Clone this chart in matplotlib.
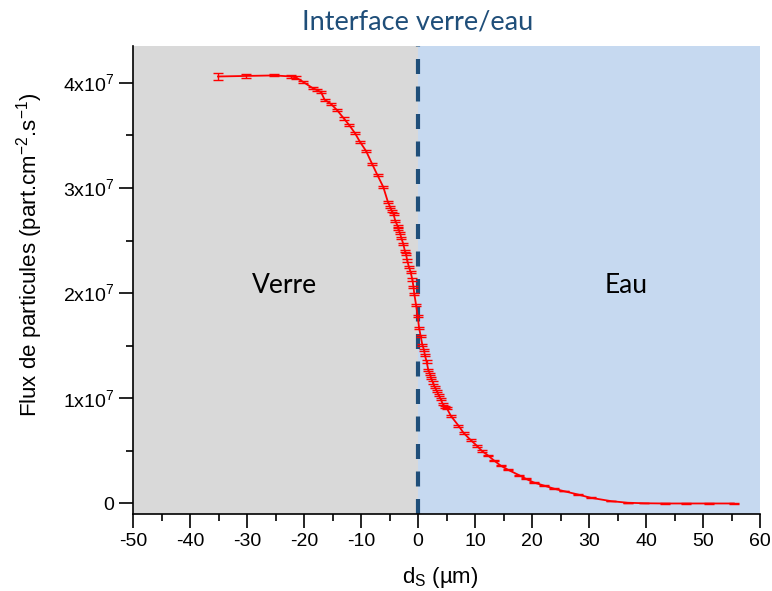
import numpy as np
import matplotlib.pyplot as plt
import matplotlib.transforms as mtransforms

# data (x in µm, flux in 1e7 part.cm-2.s-1)
ds = [-35.1, -30.2, -25.3, -22.2, -21.4, -20.2, -18.5, -17.7, -17.0, -16.4,
      -15.3, -14.2, -13.0, -12.1, -11.05, -10.2, -9.1, -8.07, -7.1, -6.1,
      -5.3, -4.9, -4.6, -4.3, -4.0, -3.6, -3.45, -3.16, -2.9, -2.6,
      -2.3, -2.1, -1.9, -1.6, -1.3, -1.0, -0.8, -0.65, -0.35, -0.05,
      0.18, 0.47, 0.75, 1.05, 1.2, 1.5, 1.8, 2.1, 2.3, 2.6,
      2.9, 3.3, 3.6, 4.0, 4.3, 4.7, 5.0, 5.8, 7.1, 8.0,
      9.3, 10.3, 11.2, 12.2, 13.3, 14.5, 15.8, 17.7, 18.9, 20.3,
      22.1, 23.9, 25.6, 28.0, 30.3, 33.9, 36.8, 39.7, 43.3, 47.0,
      51.0, 55.4]
flux = [4.06, 4.065, 4.07, 4.06, 4.05, 4.01, 3.95, 3.93, 3.91, 3.84,
        3.80, 3.74, 3.66, 3.60, 3.52, 3.44, 3.35, 3.23, 3.12, 3.01,
        2.87, 2.82, 2.78, 2.75, 2.69, 2.64, 2.61, 2.57, 2.52, 2.47,
        2.40, 2.37, 2.31, 2.25, 2.20, 2.13, 2.06, 1.99, 1.89, 1.78,
        1.67, 1.59, 1.51, 1.46, 1.41, 1.35, 1.27, 1.23, 1.19, 1.15,
        1.11, 1.07, 1.03, 0.99, 0.95, 0.92, 0.91, 0.83, 0.74, 0.67,
        0.60, 0.55, 0.50, 0.46, 0.41, 0.36, 0.32, 0.27, 0.235, 0.20,
        0.17, 0.14, 0.117, 0.086, 0.054, 0.022, 0.007, 0.002, 0.0, 0.0,
        0.0, 0.0]
err = [0.03, 0.015, 0.01, 0.01, 0.01, 0.01, 0.01, 0.01, 0.01, 0.01,
       0.01, 0.01, 0.01, 0.01, 0.01, 0.01, 0.01, 0.01, 0.01, 0.01,
       0.01, 0.01, 0.01, 0.01, 0.01, 0.01, 0.01, 0.01, 0.01, 0.01,
       0.01, 0.01, 0.01, 0.01, 0.01, 0.01, 0.01, 0.01, 0.01, 0.01,
       0.01, 0.01, 0.01, 0.01, 0.01, 0.01, 0.01, 0.01, 0.01, 0.01,
       0.01, 0.01, 0.01, 0.01, 0.01, 0.01, 0.01, 0.01, 0.01, 0.01,
       0.01, 0.01, 0.01, 0.005, 0.005, 0.005, 0.005, 0.005, 0.005, 0.005,
       0.005, 0.005, 0.003, 0.003, 0.003, 0.002, 0.002, 0.002, 0.001, 0.001,
       0.001, 0.001]

x = np.array(ds)
y = np.array(flux) * 1e7
yerr = np.array(err) * 1e7

ytick_vals = [0, 1e7, 2e7, 3e7, 4e7]
ytick_labels = ['0', r'1x10$^7$', r'2x10$^7$', r'3x10$^7$', r'4x10$^7$']

plt.rcParams['font.family'] = ['Liberation Sans', 'DejaVu Sans']
plt.rcParams['mathtext.fontset'] = 'custom'
plt.rcParams['mathtext.rm'] = 'Liberation Sans'
plt.rcParams['axes.unicode_minus'] = False

fig = plt.figure(figsize=(7.72, 5.91), dpi=100)
ax = fig.add_axes([0.1723, 0.1303, 0.8122, 0.7919])

ax.set_xlim(-50, 60)
ax.set_ylim(-0.1e7, 4.35e7)

ax.set_facecolor('#c6d9f0')
ax.axvspan(-50, 0, color='#d9d9d9', lw=0, zorder=0)
ax.axvline(0, color='#1f4e79', lw=3, dashes=(3.6, 3.0), zorder=1)

ax.errorbar(x, y, yerr=yerr, color='red', lw=1.3, capsize=3.5, capthick=1.0,
            elinewidth=1.0, zorder=3)

ax.text(-23.4, 2.07e7, 'Verre', fontsize=19, family='Lato', ha='center', va='center')
ax.text(36.5, 2.07e7, 'Eau', fontsize=19, family='Lato', ha='center', va='center')

trans = mtransforms.blended_transform_factory(ax.transData, fig.transFigure)
ax.text(0, 0.962, 'Interface verre/eau', transform=trans, fontsize=19.5,
        family='Lato', color='#1f4e79', ha='center', va='center')

ax.set_xticks(np.arange(-50, 61, 10))
ax.set_xticks(np.arange(-45, 60, 10), minor=True)
ax.set_yticks(ytick_vals)
ax.set_yticklabels(ytick_labels)
ax.set_yticks([0.5e7, 1.5e7, 2.5e7, 3.5e7], minor=True)
ax.tick_params(which='major', direction='out', length=10, width=1.2, labelsize=14)
ax.tick_params(which='minor', direction='out', length=5, width=1.2)

for s in ['top', 'right']:
    ax.spines[s].set_visible(False)
for s in ['left', 'bottom']:
    ax.spines[s].set_linewidth(1.2)

ax.set_xlabel(r'd$_\mathrm{S}$ (µm)', fontsize=16)
ax.set_ylabel(r'Flux de particules (part.cm$^{-2}$.s$^{-1}$)', fontsize=16)
ax.xaxis.set_label_coords(0.49, -0.108)
ax.yaxis.set_label_coords(-0.141, 0.555)

fig.savefig('out.png', dpi=100)
